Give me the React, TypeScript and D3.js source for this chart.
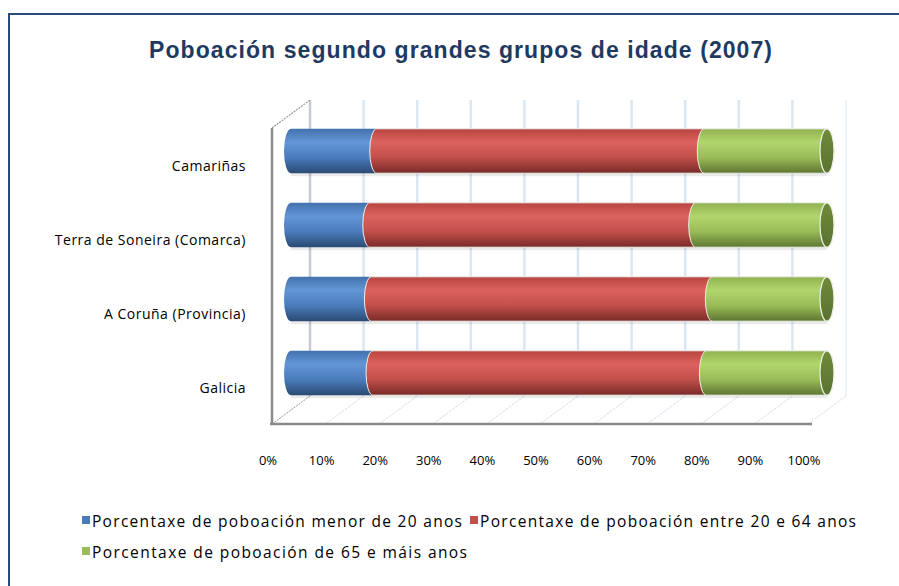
import React from "react";
import * as d3 from "d3";

const categories = ["Camariñas", "Terra de Soneira (Comarca)", "A Coruña (Provincia)", "Galicia"];
const seriesNames = [
  "Porcentaxe de poboación menor de 20 anos",
  "Porcentaxe de poboación entre 20 e 64 anos",
  "Porcentaxe de poboación de 65 e máis anos",
];
const under20 = [16.0, 14.7, 15.0, 15.3];
const between20and64 = [61.1, 60.8, 63.6, 62.2];
const over65 = [22.9, 24.5, 21.4, 22.5];
const tickValues = [0, 10, 20, 30, 40, 50, 60, 70, 80, 90, 100];

const W = 899;
const H = 586;
const FRONT_X0 = 272;
const FRONT_X1 = 808;
const FRONT_Y0 = 128;
const FRONT_Y1 = 424;
const DX = 38;
const DY = -28;

const palettes = [
  { top: "#4272ad", light: "#6396d6", base: "#4a7cbc", dark: "#2b4a72", cap: "#3d669b" },
  { top: "#b8443f", light: "#dc625d", base: "#c24f4b", dark: "#782a27", cap: "#9b3c39" },
  { top: "#8fb14f", light: "#b2d66d", base: "#9abb58", dark: "#5d7631", cap: "#6b8638" },
];

const FONT = "Open Sans, Lato, sans-serif";

export default function App() {
  const x = d3.scaleLinear().domain([0, 100]).range([FRONT_X0, FRONT_X1]);
  const y = d3.scaleBand<string>().domain(categories).range([FRONT_Y0, FRONT_Y1]).paddingInner(0.4).paddingOuter(0.2);
  const series = [under20, between20and64, over65];
  const stacked = d3.stack<number>().keys(["0", "1", "2"]).value((i, k) => series[+k][i])(d3.range(categories.length));

  const bx = DX / 2;
  const by = DY / 2;
  const rx = 7;
  const bandH = y.bandwidth();
  const ry = bandH / 2;

  const segPath = (x0: number, x1: number, yt: number) => {
    const yb = yt + bandH;
    return `M${x0},${yt} L${x1},${yt} A${rx},${ry} 0 0 1 ${x1},${yb} L${x0},${yb} A${rx},${ry} 0 0 1 ${x0},${yt} Z`;
  };

  return (
    <svg width={W} height={H} style={{ position: "absolute", left: 0, top: 0, background: "#fff" }}>
      <defs>
        {palettes.map((p, i) => (
          <linearGradient key={i} id={`g${i}`} x1="0" y1="0" x2="0" y2="1">
            <stop offset="0" stopColor={p.top} />
            <stop offset="0.3" stopColor={p.light} />
            <stop offset="0.65" stopColor={p.base} />
            <stop offset="1" stopColor={p.dark} />
          </linearGradient>
        ))}
        <linearGradient id="capg" x1="0" y1="0" x2="0" y2="1">
          <stop offset="0" stopColor="#6f8b3a" />
          <stop offset="1" stopColor="#5a7230" />
        </linearGradient>
      </defs>

      <rect x={9} y={14} width={W + 20} height={H + 20} fill="#fff" stroke="#2c4a78" strokeWidth={2} />

      <text x={149} y={58} fontFamily="Liberation Sans, Arial, sans-serif" fontWeight="bold" fontSize={23} fill="#1f3a60"
        textLength={623} lengthAdjust="spacing">
        Poboación segundo grandes grupos de idade (2007)
      </text>

      {/* back wall grid lines */}
      {tickValues.map((t, i) => (
        <line key={`bg${t}`} x1={x(t) + DX} x2={x(t) + DX} y1={FRONT_Y0 + DY} y2={FRONT_Y1 + DY}
          stroke={i === 0 ? "#c5ccd6" : "#dce6f2"} strokeWidth={i === 10 ? 1 : 2.5} />
      ))}
      {/* floor grid lines */}
      {tickValues.map((t) => (
        <line key={`fg${t}`} x1={x(t)} y1={FRONT_Y1} x2={x(t) + DX} y2={FRONT_Y1 + DY}
          stroke={t === 0 ? "#9a9a9a" : "#d3e0f0"} strokeWidth={1} strokeDasharray={t === 0 ? "2,1" : "3,1"} />
      ))}
      {/* left wall */}
      <line x1={FRONT_X0} y1={FRONT_Y0} x2={FRONT_X0 + DX} y2={FRONT_Y0 + DY} stroke="#9a9a9a" strokeWidth={1.2} strokeDasharray="2,1" />
      <line x1={FRONT_X0} y1={FRONT_Y0} x2={FRONT_X0} y2={FRONT_Y1} stroke="#8a8a8a" strokeWidth={2.5} />
      <line x1={FRONT_X0 - 2} y1={FRONT_Y1} x2={x(100) + 4} y2={FRONT_Y1} stroke="#8a8a8a" strokeWidth={2.5} />

      {/* bars */}
      {categories.map((c, ci) => {
        const yt = (y(c) as number) + by;
        return (
          <g key={c}>
            <rect x={x(0) + bx} y={yt + bandH - 1} width={x(100) - x(0)} height={4} fill="#000" opacity={0.08} />
            {stacked.map((s, si) => {
              const x0 = x(s[ci][0]) + bx;
              const x1 = x(s[ci][1]) + bx;
              return (
                <path key={si} d={segPath(x0, x1, yt)} fill={`url(#g${si})`}
                  stroke={si === 0 ? "none" : "#eef0ea"} strokeWidth={si === 0 ? 0 : 1} />
              );
            })}
            <ellipse cx={x(100) + bx} cy={yt + ry} rx={rx} ry={ry} fill="url(#capg)" stroke="#eef2e6" strokeWidth={1.2} />
          </g>
        );
      })}

      {/* category labels */}
      {categories.map((c) => (
        <text key={`l${c}`} x={246} y={(y(c) as number) + bandH / 2 + 6} textAnchor="end"
          fontFamily={FONT} fontSize={14} letterSpacing={0.5} fill="#000">
          {c}
        </text>
      ))}

      {/* tick labels */}
      {tickValues.map((t) => (
        <text key={`t${t}`} x={x(t) - 4} y={465} textAnchor="middle" fontFamily={FONT} fontSize={13} fill="#000">
          {`${t}%`}
        </text>
      ))}

      {/* legend */}
      {[
        { si: 0, sx: 82, ty: 527, len: 370 },
        { si: 1, sx: 470, ty: 527, len: 376 },
        { si: 2, sx: 82, ty: 558, len: 375 },
      ].map((l) => (
        <g key={`lg${l.si}`}>
          <rect x={l.sx} y={l.ty - 11} width={8} height={8} fill={palettes[l.si].base} />
          <text x={l.sx + 10} y={l.ty} fontFamily={FONT} fontSize={15.5} fill="#000"
            textLength={l.len} lengthAdjust="spacing">
            {seriesNames[l.si]}
          </text>
        </g>
      ))}
    </svg>
  );
}
